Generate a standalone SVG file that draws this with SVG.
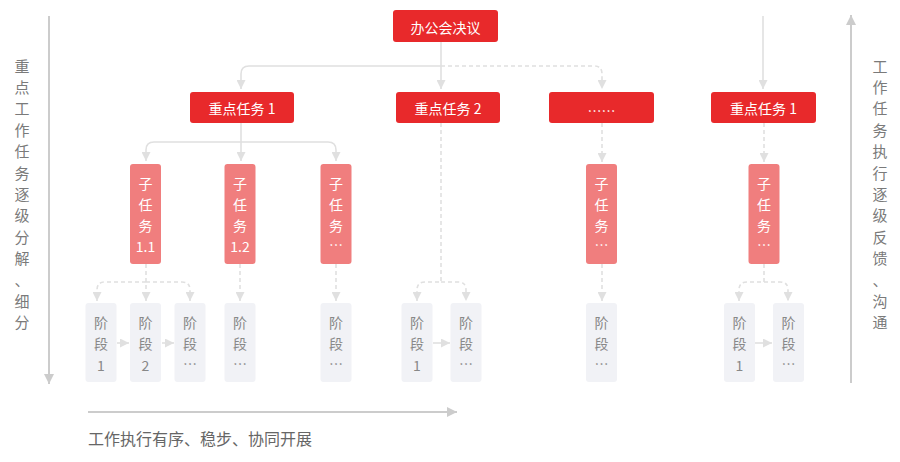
<svg xmlns="http://www.w3.org/2000/svg" width="900" height="462" viewBox="0 0 900 462">
<style>
text{font-family:"Noto Sans CJK SC","Noto Sans",sans-serif;}
.main rect{fill:#e8292b;}
.main text{fill:#ffffff;font-size:14px;text-anchor:middle;dominant-baseline:central;}
.sub rect{fill:#f07e7e;}
.sub text{fill:#ffffff;font-size:14px;text-anchor:middle;dominant-baseline:central;}
.stage rect{fill:#f1f2f6;}
.stage text{fill:#888888;font-size:14px;text-anchor:middle;dominant-baseline:central;}
.side text{fill:#7a7a7a;font-size:15px;text-anchor:middle;dominant-baseline:central;}
.c{fill:none;stroke:#e0e0e0;stroke-width:1.6;}
.d{stroke-dasharray:4 3;}
.ax{fill:none;stroke:#cccccc;stroke-width:2;}
</style>
<defs>
<marker id="ah" viewBox="0 0 10 10" refX="10" refY="5" markerWidth="10" markerHeight="9" markerUnits="userSpaceOnUse" orient="auto"><path d="M0,0 L10,5 L0,10 z" fill="#e0e0e0"/></marker>
<marker id="ax" viewBox="0 0 10 10" refX="10" refY="5" markerWidth="11" markerHeight="10" markerUnits="userSpaceOnUse" orient="auto"><path d="M0,0 L10,5 L0,10 z" fill="#cccccc"/></marker>
</defs>
<rect width="900" height="462" fill="#ffffff"/>

<g id="connectors">
<path class="c" d="M441,42 V89" marker-end="url(#ah)"/>
<path class="c" d="M441,66 H249 Q241,66 241,74 V89" marker-end="url(#ah)"/>
<path class="c d" d="M441,66 H594 Q602,66 602,74 V89" marker-end="url(#ah)"/>
<path class="c" d="M763,16 V89" marker-end="url(#ah)"/>
<path class="c" d="M241,123 V161" marker-end="url(#ah)"/>
<path class="c" d="M241,142 H154 Q146,142 146,150 V161" marker-end="url(#ah)"/>
<path class="c" d="M241,142 H328 Q336,142 336,150 V161" marker-end="url(#ah)"/>
<path class="c d" d="M602,123 V162" marker-end="url(#ah)"/>
<path class="c d" d="M764,123 V162" marker-end="url(#ah)"/>
<path class="c d" d="M146,264 V301" marker-end="url(#ah)"/>
<path class="c d" d="M146,282 H105 Q97,282 97,290 V301" marker-end="url(#ah)"/>
<path class="c d" d="M146,282 H182 Q190,282 190,290 V301" marker-end="url(#ah)"/>
<path class="c d" d="M240,264 V301" marker-end="url(#ah)"/>
<path class="c d" d="M336,264 V301" marker-end="url(#ah)"/>
<path class="c d" d="M441,123 V282 H425 Q417,282 417,290 V301" marker-end="url(#ah)"/>
<path class="c d" d="M441,282 H458 Q466,282 466,290 V301" marker-end="url(#ah)"/>
<path class="c d" d="M602,264 V301" marker-end="url(#ah)"/>
<path class="c d" d="M764,264 V282 H747 Q739,282 739,290 V301" marker-end="url(#ah)"/>
<path class="c d" d="M764,282 H780 Q788,282 788,290 V301" marker-end="url(#ah)"/>
<path class="c" d="M117,343 H129" marker-end="url(#ah)"/>
<path class="c" d="M162,343 H174" marker-end="url(#ah)"/>
<path class="c" d="M433,343 H450" marker-end="url(#ah)"/>
<path class="c" d="M755,343 H772" marker-end="url(#ah)"/>
<path class="ax" d="M49,16 V384" marker-end="url(#ax)"/>
<path class="ax" d="M851,383 V15" marker-end="url(#ax)"/>
<path class="ax" d="M88,412 H457" marker-end="url(#ax)"/>
</g>

<g id="n-top" class="main"><rect x="393" y="10" width="105" height="32" rx="3"/><text x="445.5" y="26.5">办公会决议</text></g>
<g id="n-k1" class="main"><rect x="190" y="92" width="104" height="31" rx="3"/><text x="242" y="107.5">重点任务 1</text></g>
<g id="n-k2" class="main"><rect x="396" y="92" width="104" height="31" rx="3"/><text x="448" y="107.5">重点任务 2</text></g>
<g id="n-k3" class="main"><rect x="549" y="92" width="105" height="31" rx="3"/><text x="601.5" y="110">……</text></g>
<g id="n-k4" class="main"><rect x="711" y="92" width="105" height="31" rx="3"/><text x="763.5" y="107.5">重点任务 1</text></g>

<g id="s-11" class="sub"><rect x="130" y="164" width="31" height="100" rx="3"/><text x="145.5" y="183">子</text><text x="145.5" y="204">任</text><text x="145.5" y="225">务</text><text x="145.5" y="246">1.1</text></g>
<g id="s-12" class="sub"><rect x="224.5" y="164" width="31" height="100" rx="3"/><text x="240" y="183">子</text><text x="240" y="204">任</text><text x="240" y="225">务</text><text x="240" y="246">1.2</text></g>
<g id="s-13" class="sub"><rect x="320.5" y="164" width="31" height="100" rx="3"/><text x="336" y="183">子</text><text x="336" y="204">任</text><text x="336" y="225">务</text><text x="336" y="244">…</text></g>
<g id="s-3" class="sub"><rect x="586" y="164" width="31" height="100" rx="3"/><text x="601.5" y="183">子</text><text x="601.5" y="204">任</text><text x="601.5" y="225">务</text><text x="601.5" y="244">…</text></g>
<g id="s-4" class="sub"><rect x="748.5" y="164" width="31" height="100" rx="3"/><text x="764" y="183">子</text><text x="764" y="204">任</text><text x="764" y="225">务</text><text x="764" y="244">…</text></g>

<g id="p-1" class="stage"><rect x="85.5" y="303" width="31" height="79" rx="3"/><text x="101" y="322">阶</text><text x="101" y="343">段</text><text x="101" y="365">1</text></g>
<g id="p-2" class="stage"><rect x="130" y="303" width="31" height="79" rx="3"/><text x="145.5" y="322">阶</text><text x="145.5" y="343">段</text><text x="145.5" y="365">2</text></g>
<g id="p-3" class="stage"><rect x="174.5" y="303" width="31" height="79" rx="3"/><text x="190" y="322">阶</text><text x="190" y="343">段</text><text x="190" y="363">…</text></g>
<g id="p-4" class="stage"><rect x="224.5" y="303" width="31" height="79" rx="3"/><text x="240" y="322">阶</text><text x="240" y="343">段</text><text x="240" y="363">…</text></g>
<g id="p-5" class="stage"><rect x="320.5" y="303" width="31" height="79" rx="3"/><text x="336" y="322">阶</text><text x="336" y="343">段</text><text x="336" y="363">…</text></g>
<g id="p-6" class="stage"><rect x="401.5" y="303" width="31" height="79" rx="3"/><text x="417" y="322">阶</text><text x="417" y="343">段</text><text x="417" y="365">1</text></g>
<g id="p-7" class="stage"><rect x="450.5" y="303" width="31" height="79" rx="3"/><text x="466" y="322">阶</text><text x="466" y="343">段</text><text x="466" y="363">…</text></g>
<g id="p-8" class="stage"><rect x="586" y="303" width="31" height="79" rx="3"/><text x="601.5" y="322">阶</text><text x="601.5" y="343">段</text><text x="601.5" y="363">…</text></g>
<g id="p-9" class="stage"><rect x="724" y="303" width="31" height="79" rx="3"/><text x="739.5" y="322">阶</text><text x="739.5" y="343">段</text><text x="739.5" y="365">1</text></g>
<g id="p-10" class="stage"><rect x="773" y="303" width="31" height="79" rx="3"/><text x="788.5" y="322">阶</text><text x="788.5" y="343">段</text><text x="788.5" y="363">…</text></g>

<g id="label-left" class="side">
<text x="22" y="65">重</text><text x="22" y="86.4">点</text><text x="22" y="107.8">工</text><text x="22" y="129.2">作</text><text x="22" y="150.6">任</text><text x="22" y="172">务</text><text x="22" y="193.4">逐</text><text x="22" y="214.8">级</text><text x="22" y="236.2">分</text><text x="22" y="257.6">解</text><text x="22" y="279">、</text><text x="22" y="300.4">细</text><text x="22" y="321.8">分</text>
</g>
<g id="label-right" class="side">
<text x="880" y="65">工</text><text x="880" y="86.4">作</text><text x="880" y="107.8">任</text><text x="880" y="129.2">务</text><text x="880" y="150.6">执</text><text x="880" y="172">行</text><text x="880" y="193.4">逐</text><text x="880" y="214.8">级</text><text x="880" y="236.2">反</text><text x="880" y="257.6">馈</text><text x="880" y="279">、</text><text x="880" y="300.4">沟</text><text x="880" y="321.8">通</text>
</g>
<g id="label-bottom"><text x="88" y="438" font-size="16" fill="#666666" dominant-baseline="central">工作执行有序、稳步、协同开展</text></g>
</svg>
